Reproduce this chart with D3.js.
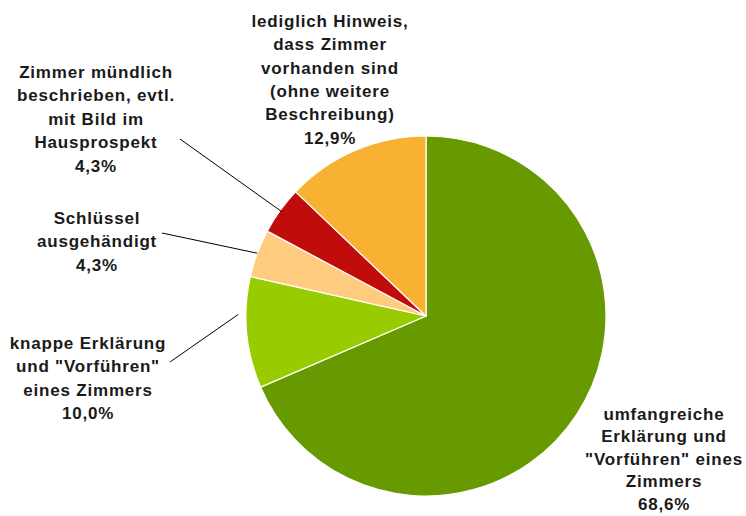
<!DOCTYPE html>
<html>
<head>
<meta charset="utf-8">
<script src="https://cdn.jsdelivr.net/npm/d3@7"></script>
<style>
  html, body { margin: 0; padding: 0; background: #fff; }
  svg text { font-family: "Liberation Sans", Arial, sans-serif; font-weight: bold; font-size: 17px; fill: #1a1a1a; letter-spacing: 0.8px; }
</style>
</head>
<body>
<svg id="chart" width="746" height="516"></svg>
<script>
// Slice data, clockwise from 12 o'clock
const categories = [
  ["umfangreiche", "Erklärung und", "\"Vorführen\" eines", "Zimmers"],
  ["knappe Erklärung", "und \"Vorführen\"", "eines Zimmers"],
  ["Schlüssel", "ausgehändigt"],
  ["Zimmer mündlich", "beschrieben, evtl.", "mit Bild im", "Hausprospekt"],
  ["lediglich Hinweis,", "dass Zimmer", "vorhanden sind", "(ohne weitere", "Beschreibung)"]
];
const values = [68.6, 10.0, 4.3, 4.3, 12.9];
const colors = ["#669a00", "#99cc00", "#ffcc7f", "#c10c0c", "#f9b134"];

// Label placement: centre x, first-line y, line step, optional leader line
const labelLayout = [
  { x: 664, y: 420, step: 22.4, leader: false },
  { x: 88,  y: 349, step: 23.3, leader: true, lx: 170, ly: 362, r: 188, dAngle: 0.1 },
  { x: 97,  y: 224, step: 23.3, leader: true, lx: 162, ly: 233, r: 180 },
  { x: 96,  y: 78,  step: 23.4, leader: true, lx: 180, ly: 139, r: 178 },
  { x: 330, y: 27,  step: 23.3, leader: false }
];

const cx = 426, cy = 316, radius = 180;
const fmt = v => v.toFixed(1).replace(".", ",") + "%";

const svg = d3.select("#chart");
const pie = d3.pie().sort(null).value(d => d)(values);
const arc = d3.arc().innerRadius(0).outerRadius(radius);

const g = svg.append("g").attr("transform", `translate(${cx},${cy})`);
g.selectAll("path")
  .data(pie)
  .join("path")
  .attr("d", arc)
  .attr("fill", (d, i) => colors[i])
  .attr("stroke", "#fff")
  .attr("stroke-width", 1.2)
  .attr("stroke-linejoin", "round");

// Leader lines from slice edge to label
pie.forEach((d, i) => {
  const L = labelLayout[i];
  if (!L.leader) return;
  const a = (d.startAngle + d.endAngle) / 2 + (L.dAngle || 0);
  const px = cx + L.r * Math.sin(a), py = cy - L.r * Math.cos(a);
  svg.append("line")
    .attr("x1", L.lx).attr("y1", L.ly)
    .attr("x2", px).attr("y2", py)
    .attr("stroke", "#000").attr("stroke-width", 1);
});

// Labels: category lines followed by the percentage
pie.forEach((d, i) => {
  const L = labelLayout[i];
  const lines = categories[i].concat([fmt(values[i])]);
  const t = svg.append("text")
    .attr("text-anchor", "middle")
    .attr("x", L.x).attr("y", L.y);
  lines.forEach((s, k) => {
    t.append("tspan").attr("x", L.x).attr("y", L.y + k * L.step).text(s);
  });
});
</script>
</body>
</html>
